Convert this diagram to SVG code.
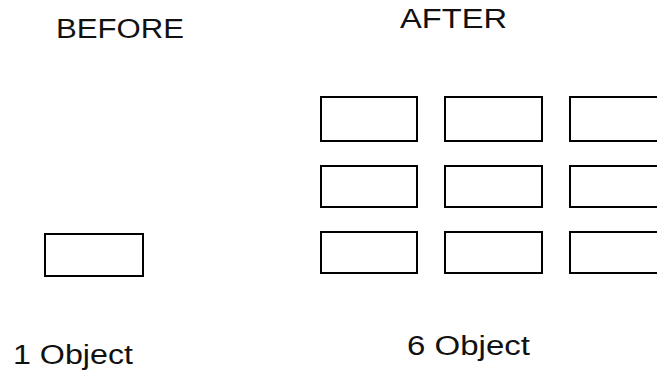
<svg xmlns="http://www.w3.org/2000/svg" width="657" height="374" viewBox="0 0 657 374">
<style>
.box{fill:#fff;stroke:#000;stroke-width:2}
.lbl{font-family:"Liberation Sans",Arial,sans-serif;font-size:27px;fill:#111}
</style>
<rect width="657" height="374" fill="#fff"/>
<g id="before-label"><text class="lbl" x="56" y="38" textLength="128" lengthAdjust="spacingAndGlyphs">BEFORE</text></g>
<g id="after-label"><text class="lbl" x="400" y="28" textLength="107" lengthAdjust="spacingAndGlyphs">AFTER</text></g>
<g id="before-obj"><rect class="box" x="45" y="234" width="98" height="42"/></g>
<g id="after-objs">
<g id="a11"><rect class="box" x="321" y="97" width="96" height="44"/></g>
<g id="a12"><rect class="box" x="445" y="97" width="97" height="44"/></g>
<g id="a13"><rect class="box" x="570" y="97" width="100" height="44"/></g>
<g id="a21"><rect class="box" x="321" y="166" width="96" height="41"/></g>
<g id="a22"><rect class="box" x="445" y="166" width="97" height="41"/></g>
<g id="a23"><rect class="box" x="570" y="166" width="100" height="41"/></g>
<g id="a31"><rect class="box" x="321" y="232" width="96" height="41"/></g>
<g id="a32"><rect class="box" x="445" y="232" width="97" height="41"/></g>
<g id="a33"><rect class="box" x="570" y="232" width="100" height="41"/></g>
</g>
<g id="connectors"></g>
<g id="count-before"><text class="lbl" x="13" y="364" textLength="120" lengthAdjust="spacingAndGlyphs">1 Object</text></g>
<g id="count-after"><text class="lbl" x="407" y="355" textLength="123" lengthAdjust="spacingAndGlyphs">6 Object</text></g>
</svg>
